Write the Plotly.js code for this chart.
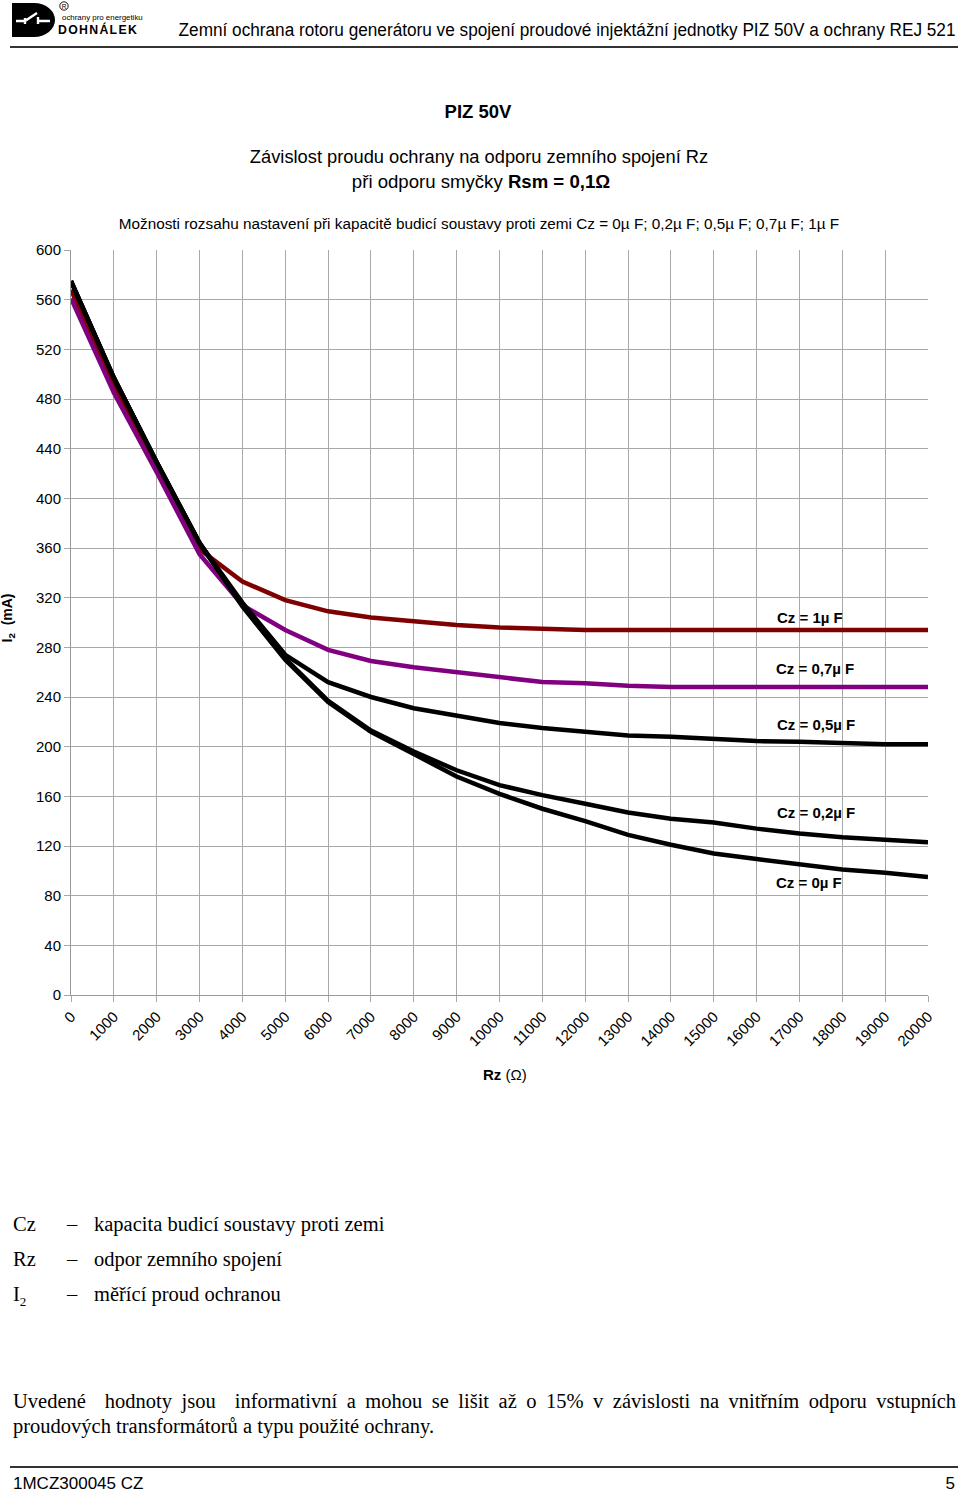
<!DOCTYPE html>
<html>
<head>
<meta charset="utf-8">
<script src="https://cdn.plot.ly/plotly-3.0.1.min.js"></script>
<style>
  html, body { margin:0; padding:0; background:#fff; }
  #page { position:relative; width:960px; height:1493px; overflow:hidden; background:#fff; }
  #chart { position:absolute; left:0; top:0; width:960px; height:1493px; }
  .t { position:absolute; white-space:nowrap; color:#000; }
  .narrow { font-family:"Liberation Sans Narrow","Arial Narrow","Liberation Sans",Arial,sans-serif; }
  .serif { font-family:"Liberation Serif","Times New Roman",serif; font-size:20.5px; }
  .rule { position:absolute; left:10px; width:948px; height:2px; background:#333; }
</style>
</head>
<body>
<div id="page">
  <div id="chart"></div>

  <!-- header -->
  <svg class="t" style="left:0;top:0" width="160" height="44" viewBox="0 0 160 44">
    <path d="M12,3 L34,3 A21,17 0 0 1 34,37 L12,37 Z" fill="#000"/>
    <path d="M16,21 L25,21 M25,21 L37,13 M38,17 L38,21 L50,21 M25,18 L25,24 M38,18 L38,24" stroke="#fff" stroke-width="2.4" fill="none"/>
    <circle cx="64" cy="6" r="4.2" fill="none" stroke="#000" stroke-width="0.9"/>
    <text x="64" y="8.6" font-size="6.5" text-anchor="middle" font-family="Liberation Sans">R</text>
    <text x="62" y="19.5" font-size="7.9" font-family="Liberation Sans">ochrany pro energetiku</text>
    <text x="58" y="34" font-size="12.3" font-weight="bold" letter-spacing="1.3" font-family="Liberation Sans">DOHNÁLEK</text>
  </svg>
  <div class="t narrow" style="right:5px;top:20px;font-size:18px;transform:scaleX(0.955);transform-origin:right center;">Zemní ochrana rotoru generátoru ve spojení proudové injektážní jednotky PIZ 50V a ochrany REJ 521</div>
  <div class="rule" style="top:46px;"></div>

  <!-- titles -->
  <div class="t narrow" style="left:0;width:956px;text-align:center;top:101px;font-size:18.5px;font-weight:bold;">PIZ 50V</div>
  <div class="t narrow" style="left:0;width:958px;text-align:center;top:146px;font-size:18.3px;">Závislost proudu ochrany na odporu zemního spojení Rz</div>
  <div class="t narrow" style="left:0;width:962px;text-align:center;top:171px;font-size:18.6px;">při odporu smyčky <b>Rsm = 0,1Ω</b></div>
  <div class="t narrow" style="left:0;width:958px;text-align:center;top:215px;font-size:15.3px;">Možnosti rozsahu nastavení při kapacitě budicí soustavy proti zemi Cz = 0µ F; 0,2µ F; 0,5µ F; 0,7µ F; 1µ F</div>

  <!-- definitions -->
  <div class="t serif" style="left:13px;top:1213px;">Cz</div>
  <div class="t serif" style="left:67px;top:1213px;">–</div>
  <div class="t serif" style="left:94px;top:1213px;">kapacita budicí soustavy proti zemi</div>
  <div class="t serif" style="left:13px;top:1248px;">Rz</div>
  <div class="t serif" style="left:67px;top:1248px;">–</div>
  <div class="t serif" style="left:94px;top:1248px;">odpor zemního spojení</div>
  <div class="t serif" style="left:13px;top:1283px;">I<sub style="font-size:13px;">2</sub></div>
  <div class="t serif" style="left:67px;top:1283px;">–</div>
  <div class="t serif" style="left:94px;top:1283px;">měřící proud ochranou</div>

  <!-- note -->
  <div class="t serif" style="left:13px;top:1390px;width:943px;text-align:justify;text-align-last:justify;">Uvedené&nbsp; hodnoty jsou&nbsp; informativní a mohou se lišit až o 15% v závislosti na vnitřním odporu vstupních</div>
  <div class="t serif" style="left:13px;top:1415px;">proudových transformátorů a typu použité ochrany.</div>

  <!-- footer -->
  <div class="rule" style="top:1466px;"></div>
  <div class="t narrow" style="left:13px;top:1474px;font-size:17px;">1MCZ300045 CZ</div>
  <div class="t narrow" style="right:5px;top:1474px;font-size:17px;">5</div>
</div>

<script>
// Data
var rz = [0,1000,2000,3000,4000,5000,6000,7000,8000,9000,10000,11000,12000,13000,14000,15000,16000,17000,18000,19000,20000];
var rzTickText = ["0","1000","2000","3000","4000","5000","6000","7000","8000","9000","10000","11000","12000","13000","14000","15000","16000","17000","18000","19000","20000"];
var yTicks = [0,40,80,120,160,200,240,280,320,360,400,440,480,520,560,600];

var i2_cz1  = [568,490,425,359,333,318,309,304,301,298,296,295,294,294,294,294,294,294,294,294,294];
var i2_cz07 = [561,485,421,355,314,294,278,269,264,260,256,252,251,249,248,248,248,248,248,248,248];
var i2_cz05 = [575,497,429,364,316,274,252,240,231,225,219,215,212,209,208,206,204.5,204,203,202,202];
var i2_cz02 = [575,497,429,364,314,271,237,213,196,181,169,161,154,147,142,139,134,130,127,125,123];
var i2_cz0  = [575,497,429,364,313,270,236,212,194,176,162,150,140,129,121,114,109.5,105.5,101,98.5,95];

var seriesNames  = ["Cz = 1µ F","Cz = 0,7µ F","Cz = 0,5µ F","Cz = 0,2µ F","Cz = 0µ F"];
var seriesValues = [i2_cz1, i2_cz07, i2_cz05, i2_cz02, i2_cz0];
var seriesColors = ["#7f0000","#800080","#000000","#000000","#000000"];
// label anchor positions (in data units)
var labelX = [16440,16410,16440,16440,16410];
var labelY = [304,263,218,147,91];

var traces = seriesValues.map(function(v,i){
  return {x: rz, y: v, type:'scatter', mode:'lines', name: seriesNames[i],
          line:{color: seriesColors[i], width:4.5}, hoverinfo:'skip'};
});

var tickFont = {family:'"Liberation Sans", Arial, sans-serif', size:15, color:'#000'};
var grid = '#a8a8a8';

var annotations = seriesNames.map(function(n,i){
  return {x: labelX[i], y: labelY[i], xref:'x', yref:'y', text:'<b>'+n+'</b>',
          showarrow:false, xanchor:'left', yanchor:'middle',
          font:{family:'"Liberation Sans", Arial, sans-serif', size:15, color:'#000'}};
});
annotations.push({xref:'paper', yref:'paper', x:0.506, y:-0.107, text:'<b>Rz</b> (Ω)',
  showarrow:false, xanchor:'center', yanchor:'middle',
  font:{family:'"Liberation Sans", Arial, sans-serif', size:15, color:'#000'}});
annotations.push({xref:'paper', yref:'paper', x:-0.073, y:0.506, text:'<b>I<sub>2</sub>  (mA)</b>',
  showarrow:false, textangle:-90, xanchor:'center', yanchor:'middle',
  font:{family:'"Liberation Sans", Arial, sans-serif', size:14, color:'#000'}});

var layout = {
  width:960, height:1493,
  margin:{l:71, r:32, t:250, b:498, pad:0},
  paper_bgcolor:'rgba(0,0,0,0)', plot_bgcolor:'#fff',
  showlegend:false,
  xaxis:{range:[0,20000], tickmode:'array', tickvals: rz, ticktext: rzTickText,
         tickangle:-45, tickfont: tickFont, showgrid:true, gridcolor:grid, gridwidth:1,
         ticks:'outside', ticklen:6, tickcolor:grid, showline:true, linecolor:'#999', linewidth:1,
         zeroline:false, fixedrange:true, automargin:false},
  yaxis:{range:[0,600], tickmode:'array', tickvals: yTicks, ticktext: yTicks.map(String),
         tickfont: tickFont, showgrid:true, gridcolor:grid, gridwidth:1,
         ticks:'outside', ticklen:6, tickcolor:grid, showline:true, linecolor:'#999', linewidth:1,
         zeroline:false, fixedrange:true, automargin:false},
  annotations: annotations
};

Plotly.newPlot('chart', traces, layout, {staticPlot:true, displayModeBar:false});
</script>
</body>
</html>
